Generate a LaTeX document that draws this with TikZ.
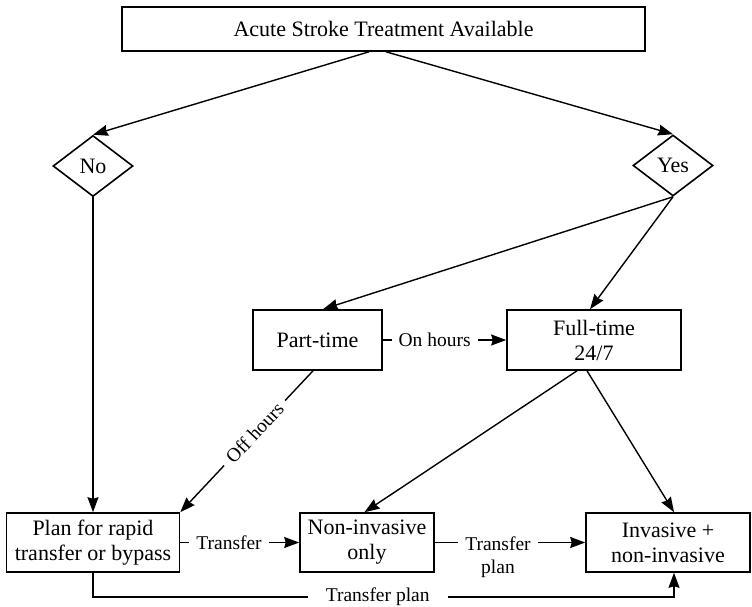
\documentclass[tikz,border=0pt]{standalone}
\usepackage{fontspec}
\setmainfont{Liberation Serif}
\usetikzlibrary{positioning,shapes.geometric,arrows.meta}

\begin{document}
\begin{tikzpicture}[->, >={Stealth[length=15pt,width=11pt,inset=1.5pt]}, line width=1.4pt,
	x=1pt, y=1pt, on grid,
	box/.style={rectangle, draw, line width=1.6pt, align=center, inner sep=0pt, font=\fontsize{22}{25}\selectfont},
	choice/.style={diamond, draw, line width=1.6pt, aspect=1.31, minimum width=80pt, minimum height=61pt, inner sep=0pt, font=\fontsize{22}{25}\selectfont},
	lbl/.style={fill=white, inner xsep=7pt, inner ysep=2pt, font=\fontsize{19.5}{23}\selectfont}]
	\useasboundingbox (0,0) rectangle (752,-606);
	\node[box, minimum width=523pt, minimum height=44pt] (avail) at (383.5,-29) {Acute Stroke Treatment Available};
	\node[choice] (no)  [below left=137pt and 290.5pt of avail]  {No};
	\node[choice] (yes) [below right=136.5pt and 289.5pt of avail] {Yes};
	\node[box, minimum width=174pt, minimum height=60pt] (full)   [below left=174.5pt and 79pt of yes] {Full-time\\24/7};
	\node[box, minimum width=129pt, minimum height=60pt] (part)   [left=276.5pt of full]  {Part-time};
	\node[box, minimum width=173pt, minimum height=59pt] (plan)   [below=376.5pt of no]   {Plan for rapid\\transfer or bypass};
	\node[box, minimum width=134pt, minimum height=59pt] (noninv) [right=274pt of plan]   {Non-invasive\\only};
	\node[box, minimum width=164pt, minimum height=59pt] (inv)    [right=301pt of noninv] {Invasive +\\non-invasive};
	
	\path 	([xshift=-14.5pt]avail.south) edge (no.north)
	([xshift=2.5pt]avail.south) edge (yes.north)
	(yes.south) edge ([xshift=5.5pt]part.north)
	(yes.south) edge ([xshift=-4pt]full.north)
	(part.east) edge node[lbl, pos=0.42] {On hours} (full.west)
	([xshift=-4.5pt]part.south) edge node[lbl, sloped, pos=0.44] {Off hours} (plan.north east)
	(no.south) edge (plan.north)
	([xshift=-17pt]full.south) edge ([xshift=-2.5pt]noninv.north)
	([xshift=-7pt]full.south) edge ([xshift=6pt]inv.north)
	(plan.east) edge node[lbl, pos=0.41] {Transfer} (noninv.west)
	(noninv.east) edge node[lbl, pos=0.42, align=center, anchor=north, yshift=8.8pt] {Transfer\\plan} (inv.west);
	\draw (plan.south) -- ++(0,-24) -| node[lbl, pos=0.245, inner xsep=18pt, inner ysep=0pt] {Transfer plan} ([xshift=6pt]inv.south);
\end{tikzpicture}
\end{document}
